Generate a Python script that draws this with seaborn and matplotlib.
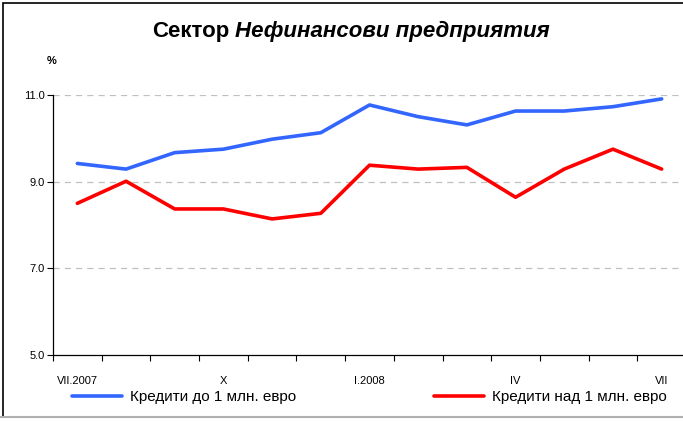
import pandas as pd
import matplotlib.pyplot as plt
import seaborn as sns
from matplotlib.patches import Rectangle

# Monthly data VII.2007 - VII.2008
months = ['VII.2007', 'VIII', 'IX', 'X', 'XI', 'XII', 'I.2008',
          'II', 'III', 'IV', 'V', 'VI', 'VII']
small_loans = [9.42, 9.29, 9.67, 9.75, 9.98, 10.13, 10.77,
               10.50, 10.31, 10.63, 10.63, 10.73, 10.91]
large_loans = [8.50, 9.01, 8.37, 8.37, 8.14, 8.27, 9.38,
               9.29, 9.33, 8.64, 9.29, 9.75, 9.29]
series_names = ['Кредити до 1 млн. евро', 'Кредити над 1 млн. евро']
shown_labels = ['VII.2007', 'X', 'I.2008', 'IV', 'VII']
y_ticks = [5.0, 7.0, 9.0, 11.0]

df = pd.DataFrame({
    'pos': list(range(len(months))) * 2,
    'value': small_loans + large_loans,
    'series': [series_names[0]] * len(months) + [series_names[1]] * len(months),
})

sns.set_style('white')
plt.rcParams['font.family'] = ['Liberation Sans', 'DejaVu Sans']
plt.rcParams['text.color'] = 'black'
plt.rcParams['xtick.color'] = 'black'
plt.rcParams['ytick.color'] = 'black'

fig = plt.figure(figsize=(6.83, 4.21), dpi=100)
ax = fig.add_axes([53 / 683, 1 - 355 / 421, 633 / 683, 260 / 421])

sns.lineplot(data=df, x='pos', y='value', hue='series',
             palette=['#3366FF', '#FF0000'], linewidth=2.6, ax=ax, legend=False)

ax.set_xlim(-0.5, len(months) - 0.5)
ax.set_ylim(5, 11)
ax.set_yticks(y_ticks)
ax.set_yticklabels([f'{v:.1f}' for v in y_ticks], fontsize=8)
for v in y_ticks[1:]:
    ax.axhline(v, color='#c0c0c0', lw=0.9, ls=(0, (5, 4)), zorder=0)

# category labels in the middle, tick marks between categories
ax.set_xticks([months.index(m) for m in shown_labels[:-1]] + [len(months) - 1])
ax.set_xticklabels(shown_labels, fontsize=8)
ax.tick_params(axis='x', which='major', bottom=False, length=0, pad=15)
ax.set_xticks([i - 0.5 for i in range(len(months) + 1)], minor=True)
ax.tick_params(axis='x', which='minor', bottom=True, length=4, width=0.8,
               color='black', direction='out')
ax.tick_params(axis='y', length=4, width=0.8, color='black', direction='out',
               left=True, pad=2)
ax.set_xlabel('')
ax.set_ylabel('')

for side in ['top', 'right']:
    ax.spines[side].set_visible(False)
for side in ['left', 'bottom']:
    ax.spines[side].set_color('black')
    ax.spines[side].set_linewidth(0.9)

# title: regular bold + bold italic part
fig.text(152 / 683, 1 - 31 / 421, 'Сектор', fontsize=16, fontweight='bold',
         ha='left', va='center')
fig.text(235 / 683, 1 - 31 / 421, 'Нефинансови предприятия', fontsize=16,
         fontweight='bold', fontstyle='italic', ha='left', va='center')
fig.text(52 / 683, 1 - 61 / 421, '%', fontsize=8, fontweight='bold',
         ha='center', va='center')

# legend
handles = [plt.Line2D([], [], color='#3366FF', lw=2.6),
           plt.Line2D([], [], color='#FF0000', lw=2.6)]
fig.legend(handles, series_names, loc='center left',
           bbox_to_anchor=(72 / 683, 1 - 397 / 421),
           ncol=2, frameon=False, fontsize=11, handlelength=3.3,
           handletextpad=0.5, columnspacing=9.0, borderaxespad=0, borderpad=0)

# outer frame
fig.patches.append(Rectangle((3 / 683, 4 / 421), 1, 1 - 7 / 421,
                             transform=fig.transFigure, fill=False,
                             edgecolor='black', lw=1.2))
fig.patches.append(Rectangle((0, 4 / 421), 1, 0, transform=fig.transFigure,
                             fill=False, edgecolor='#b0b0b0', lw=1.5))

fig.savefig('out.png', dpi=100)
